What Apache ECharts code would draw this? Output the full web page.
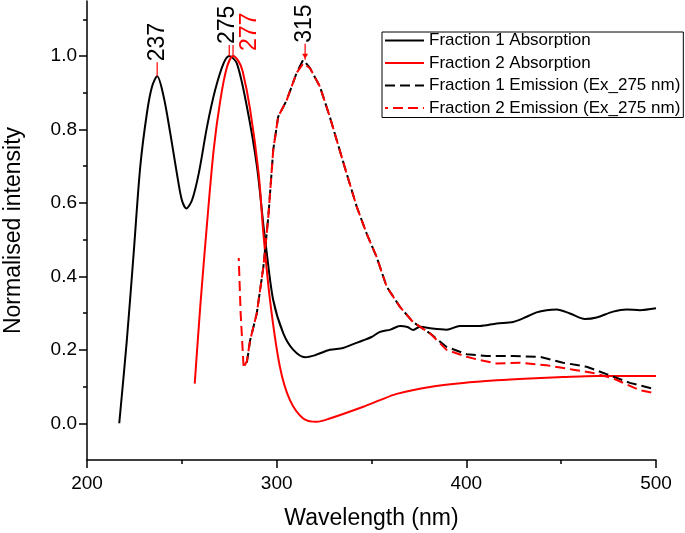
<!DOCTYPE html>
<html>
<head>
<meta charset="utf-8">
<script src="https://cdn.jsdelivr.net/npm/echarts@6/dist/echarts.min.js"></script>
<style>
  html, body { margin: 0; padding: 0; background: #fff; }
  #chart { width: 685px; height: 533px; }
</style>
</head>
<body>
<div id="chart"></div>
<script>
// Fraction 1 absorption (black solid)
const f1AbsX = [217, 221, 224.6, 228.1, 231.6, 234.3, 237, 240.4, 243.9, 247.4, 250, 252.4, 255.4, 258.9, 263.3, 267.6, 272, 275, 279, 284.3, 289.6, 293.1, 294.4, 298.2, 303.5, 308.8, 315, 320, 328, 335, 340, 345.7, 350, 354.5, 360, 365, 369, 372, 375.5, 382, 389.6, 396.6, 407, 416, 424.7, 431.8, 437, 442.3, 447.6, 454.6, 462.5, 468.7, 477.4, 484.5, 491.5, 500];
const f1AbsY = [0.0, 0.226, 0.463, 0.70, 0.845, 0.917, 0.945, 0.89, 0.79, 0.68, 0.608, 0.585, 0.608, 0.68, 0.808, 0.908, 0.98, 1.0, 0.98, 0.862, 0.70, 0.535, 0.48, 0.335, 0.245, 0.2, 0.18, 0.185, 0.2, 0.205, 0.215, 0.226, 0.235, 0.249, 0.255, 0.265, 0.262, 0.254, 0.263, 0.258, 0.255, 0.265, 0.265, 0.272, 0.276, 0.29, 0.302, 0.308, 0.31, 0.299, 0.284, 0.288, 0.304, 0.31, 0.308, 0.313];

// Fraction 2 absorption (red solid)
const f2AbsX = [256.8, 259.7, 263.3, 266.8, 270.3, 273.8, 277, 280, 282, 286, 290.5, 293, 296.5, 301.7, 307, 314, 321, 328, 345.7, 354.5, 363.3, 380.8, 398.4, 416, 433.5, 451, 468.7, 500];
const f2AbsY = [0.108, 0.317, 0.545, 0.745, 0.88, 0.97, 1.0, 0.985, 0.96, 0.855, 0.68, 0.517, 0.335, 0.154, 0.063, 0.013, 0.004, 0.013, 0.045, 0.063, 0.08, 0.099, 0.11, 0.117, 0.122, 0.126, 0.129, 0.129];

// Fraction 1 emission (black dashed)
const f1EmX = [284.3, 286, 289.5, 293, 295.6, 298.2, 300.8, 305.3, 310.5, 314, 315, 317.6, 322.8, 328, 331.6, 336.9, 342.2, 347.4, 352.7, 358, 365, 372, 380.8, 389.6, 400.2, 410.7, 424.7, 438.8, 451, 463.4, 473.9, 486.2, 500];
const f1EmY = [0.165, 0.226, 0.299, 0.426, 0.563, 0.745, 0.835, 0.88, 0.954, 0.99, 0.995, 0.967, 0.917, 0.835, 0.772, 0.68, 0.59, 0.517, 0.453, 0.372, 0.317, 0.275, 0.245, 0.208, 0.188, 0.183, 0.183, 0.181, 0.165, 0.154, 0.134, 0.11, 0.092];

// Fraction 2 emission (red dashed)
const f2EmX = [280, 281, 282.6, 284.3, 286, 289.5, 293, 295.6, 298.2, 300.8, 305.3, 310.5, 314, 317.6, 322.8, 328, 331.6, 336.9, 342.2, 347.4, 352.7, 358, 365, 372, 380.8, 389.6, 400.2, 407.2, 416, 428.3, 442.3, 456.4, 466.9, 477.5, 491.5, 500];
const f2EmY = [0.45, 0.3, 0.15, 0.17, 0.226, 0.299, 0.426, 0.563, 0.745, 0.835, 0.88, 0.954, 0.98, 0.967, 0.917, 0.835, 0.772, 0.68, 0.59, 0.517, 0.453, 0.372, 0.317, 0.275, 0.245, 0.2, 0.181, 0.172, 0.163, 0.165, 0.158, 0.146, 0.137, 0.122, 0.09, 0.081];

// peak labels
const peakX = [237, 275, 277, 315];
const peakY = [0.945, 1.0, 1.0, 0.99];
const peakText = ["237", "275", "277", "315"];
const peakColor = ["#000", "#000", "#f00", "#000"];
// label placement: [leader length, text dx, text gap above leader]
const peakLayout = [[14, 0, 0], [11, -2, 0], [11, 17, -7], [16, 0, 0]];

const yMajorTicks = [0, 0.2, 0.4, 0.6, 0.8, 1.0];
const yMinorTicks = [0.1, 0.3, 0.5, 0.7, 0.9, 1.1];

const seriesNames = ["Fraction 1 Absorption", "Fraction 2 Absorption", "Fraction 1 Emission (Ex_275 nm)", "Fraction 2 Emission (Ex_275 nm)"];

function zip(xs, ys) {
    return xs.map((x, i) => [x, ys[i]]);
}

const chart = echarts.init(document.getElementById("chart"));
const font = "Liberation Sans, Arial, sans-serif";

const option = {
    animation: false,
    textStyle: { fontFamily: font, color: "#000" },
    grid: { left: 87, right: 29, top: 1, bottom: 73, containLabel: false, outerBoundsMode: "none" },
    legend: {
        data: seriesNames,
        orient: "vertical",
        left: 382,
        top: 32,
        itemWidth: 39,
        itemHeight: 14,
        itemGap: 5.5,
        padding: [0, 3, 1, 2],
        borderColor: "#000",
        borderWidth: 1,
        backgroundColor: "#fff",
        itemStyle: { color: "rgba(0,0,0,0)", borderColor: "rgba(0,0,0,0)", borderWidth: 0 },
        textStyle: { fontFamily: font, fontSize: 17, color: "#000" }
    },
    xAxis: {
        type: "value",
        min: 200,
        max: 500,
        interval: 100,
        name: "Wavelength (nm)",
        nameLocation: "middle",
        nameGap: 47,
        nameTextStyle: { fontFamily: font, fontSize: 23, color: "#000" },
        axisLine: { onZero: false, lineStyle: { color: "#000", width: 1.5 } },
        axisTick: { length: 8, lineStyle: { color: "#000", width: 1.5 } },
        minorTick: { show: true, splitNumber: 2, length: 4, lineStyle: { color: "#000", width: 1.5 } },
        axisLabel: { fontFamily: font, fontSize: 19, color: "#000", margin: 14 },
        splitLine: { show: false }
    },
    yAxis: [
        {
            type: "value",
            min: -0.1,
            max: 1.15,
            name: "Normalised intensity",
            nameLocation: "middle",
            nameGap: 62,
            nameTextStyle: { fontFamily: font, fontSize: 23, color: "#000" },
            axisLine: { show: true, onZero: false, lineStyle: { color: "#000", width: 1.5 } },
            axisTick: { show: true, length: 4, customValues: yMinorTicks, lineStyle: { color: "#000", width: 1.5 } },
            axisLabel: {
                fontFamily: font, fontSize: 19, color: "#000", margin: 10,
                customValues: yMajorTicks,
                formatter: v => v.toFixed(1)
            },
            splitLine: { show: false }
        },
        {
            type: "value",
            min: -0.1,
            max: 1.15,
            position: "left",
            offset: 0,
            axisLine: { show: false },
            axisTick: { show: true, length: 8, customValues: yMajorTicks, lineStyle: { color: "#000", width: 1.5 } },
            axisLabel: { show: false },
            splitLine: { show: false }
        }
    ],
    series: [
        {
            name: seriesNames[0],
            type: "line",
            data: zip(f1AbsX, f1AbsY),
            symbol: "none",
            smooth: 0.3,
            lineStyle: { color: "#000", width: 2 },
            itemStyle: { color: "#000" }
        },
        {
            name: seriesNames[1],
            type: "line",
            data: zip(f2AbsX, f2AbsY),
            symbol: "none",
            smooth: 0.3,
            lineStyle: { color: "#f00", width: 2 },
            itemStyle: { color: "#f00" }
        },
        {
            name: seriesNames[2],
            type: "line",
            data: zip(f1EmX, f1EmY),
            symbol: "none",
            lineStyle: { color: "#000", width: 2, type: [10, 5] },
            itemStyle: { color: "#000" }
        },
        {
            name: seriesNames[3],
            type: "line",
            data: zip(f2EmX, f2EmY),
            symbol: "none",
            lineStyle: { color: "#f00", width: 2, type: [10, 5], dashOffset: 7 },
            itemStyle: { color: "#f00" }
        },
        {
            name: "peaks",
            type: "custom",
            data: zip(peakX, peakY),
            z: 10,
            renderItem: function (params, api) {
                const p = api.coord([api.value(0), api.value(1)]);
                const i = params.dataIndex;
                const [len, dx, gap] = peakLayout[i];
                const children = [
                    {
                        type: "line",
                        shape: { x1: p[0], y1: p[1], x2: p[0], y2: p[1] - len },
                        style: { stroke: "#f00", lineWidth: 1.2 }
                    },
                    {
                        type: "text",
                        x: p[0] + dx,
                        y: p[1] - len - 1 - gap,
                        rotation: Math.PI / 2,
                        style: {
                            text: peakText[i],
                            fill: peakColor[i],
                            font: "23px " + font,
                            align: "left",
                            verticalAlign: "middle"
                        }
                    }
                ];
                if (i === 3) {
                    children.push({
                        type: "polygon",
                        shape: { points: [[p[0] - 3, p[1] - 6], [p[0] + 3, p[1] - 6], [p[0], p[1] - 1]] },
                        style: { fill: "#f00" }
                    });
                }
                return { type: "group", children: children };
            }
        }
    ]
};

chart.setOption(option);
</script>
</body>
</html>
